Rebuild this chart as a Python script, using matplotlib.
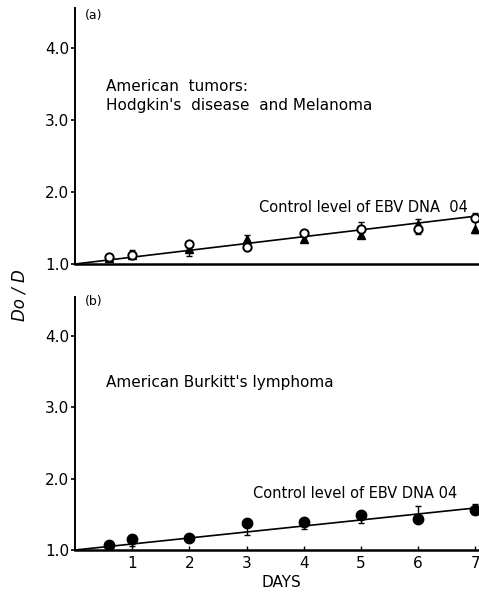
import matplotlib
matplotlib.use("Agg")
import matplotlib.pyplot as plt
import numpy as np

# ---------------- data ----------------
days = [0.6, 1, 2, 3, 4, 5, 6, 7]

# panel (a): American tumors (open circles = Hodgkin's, filled triangles = Melanoma)
a_circles = [1.10, 1.13, 1.28, 1.24, 1.43, 1.48, 1.48, 1.64]
a_triangles = [1.09, 1.12, 1.21, 1.35, 1.35, 1.40, 1.55, 1.48]
a_err_days = [1, 2, 3, 5, 6, 7]
a_err_center = [1.14, 1.17, 1.33, 1.48, 1.52, 1.57]
a_err_half = [0.05, 0.06, 0.07, 0.10, 0.10, 0.14]
a_fit = [1.0, 1.665]   # line value at day 0 and day 7

# panel (b): American Burkitt's lymphoma (filled circles)
b_dots = [1.07, 1.155, 1.17, 1.38, 1.39, 1.49, 1.44, 1.56]
b_err_days = [1, 3, 4, 5, 6, 7]
b_err_center = [1.10, 1.265, 1.35, 1.44, 1.535, 1.59]
b_err_half = [0.04, 0.06, 0.06, 0.06, 0.08, 0.05]
b_fit = [1.0, 1.59]

fit_days = [0, 7]
yticks = [1.0, 2.0, 3.0, 4.0]
ytick_labels = ["1.0", "2.0", "3.0", "4.0"]
xticks = [1, 2, 3, 4, 5, 6, 7]
xtick_labels = ["1", "2", "3", "4", "5", "6", "7"]

# ---------------- figure ----------------
W, H = 479, 600
fig = plt.figure(figsize=(W / 100, H / 100), dpi=100)
plt.rcParams['font.family'] = ['DejaVu Sans']

left = 75 / W
per_day = 57.2
width = per_day * 7.2 / W

def style_axes(ax, ylim_top):
    ax.set_xlim(0, 7.2)
    ax.set_ylim(1.0, ylim_top)
    for s in ("top", "right"):
        ax.spines[s].set_visible(False)
    ax.spines["left"].set_linewidth(1.4)
    ax.spines["bottom"].set_linewidth(1.8)
    ax.set_yticks(yticks)
    ax.set_yticklabels(ytick_labels, fontsize=11)
    ax.tick_params(axis="y", direction="out", length=3, width=1.2, pad=1)
    ax.patch.set_alpha(0)

# panel (a)
axA = fig.add_axes([left, (H - 264) / H, width, (264 - 8) / H])
style_axes(axA, 4.56)
axA.set_xticks([])
axA.plot(fit_days, a_fit, color="black", lw=1.2, zorder=2)
axA.errorbar(a_err_days, a_err_center, yerr=a_err_half, fmt="none",
             ecolor="black", elinewidth=1.0, capsize=2.5, capthick=1.0, zorder=3)
axA.plot(days, a_circles, "o", ms=6, mfc="white", mec="black", mew=1.4, zorder=4)
axA.plot(days, a_triangles, "^", ms=5.5, color="black", zorder=3)
axA.text(0.17, 4.46, "(a)", fontsize=9, va="center", ha="left")
axA.text(0.55, 3.47, "American  tumors:", fontsize=11, va="center", ha="left")
axA.text(0.55, 3.21, "Hodgkin's  disease  and Melanoma", fontsize=11, va="center", ha="left")
axA.text(3.22, 1.78, "Control level of EBV DNA  04", fontsize=10.5, va="center",
         ha="left", clip_on=False)

# panel (b)
axB = fig.add_axes([left, (H - 550) / H, width, (550 - 297) / H])
style_axes(axB, 4.55)
axB.set_xticks(xticks)
axB.set_xticklabels(xtick_labels, fontsize=11)
axB.tick_params(axis="x", direction="in", length=3, width=1.0, pad=4)
axB.plot(fit_days, b_fit, color="black", lw=1.2, zorder=2)
axB.errorbar(b_err_days, b_err_center, yerr=b_err_half, fmt="none",
             ecolor="black", elinewidth=1.0, capsize=2.5, capthick=1.0, zorder=3)
axB.plot(days, b_dots, "o", ms=7.5, color="black", zorder=4)
axB.text(0.17, 4.48, "(b)", fontsize=9, va="center", ha="left")
axB.text(0.55, 3.35, "American Burkitt's lymphoma", fontsize=11, va="center", ha="left")
axB.text(3.12, 1.79, "Control level of EBV DNA 04", fontsize=10.5, va="center",
         ha="left", clip_on=False)
axB.set_xlabel("DAYS", fontsize=11, labelpad=3)

fig.text(20 / W, 1 - 295 / H, "Do / D", rotation=90, fontsize=12, style="italic",
         ha="center", va="center")

fig.savefig("out.png", dpi=100)
